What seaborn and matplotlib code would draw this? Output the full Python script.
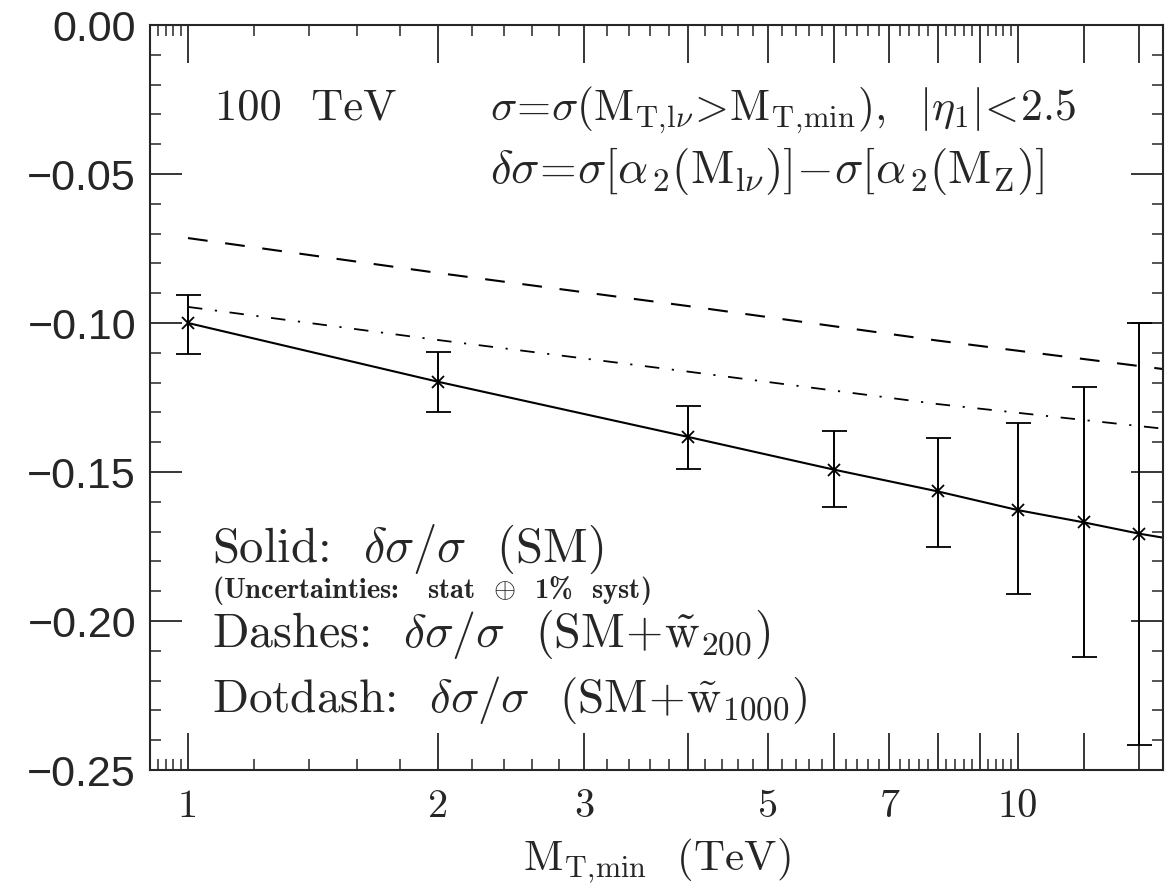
import numpy as np
import pandas as pd
import matplotlib
matplotlib.use("Agg")
import matplotlib.pyplot as plt
import seaborn as sns

# %%
# values
mt_min = [1, 2, 4, 6, 8, 10, 12, 14]
sm_central = [-0.1000, -0.1197, -0.1382, -0.1492, -0.1565, -0.1628, -0.1669, -0.1707]
sm_upper = [-0.0906, -0.1096, -0.1277, -0.1362, -0.1385, -0.1334, -0.1216, -0.1001]
sm_lower = [-0.1104, -0.1298, -0.1489, -0.1617, -0.1752, -0.1909, -0.2122, -0.2416]

# solid curve runs on to the right edge
solid_x = [1, 2, 4, 6, 8, 10, 12, 14, 15]
solid_y = [-0.1000, -0.1197, -0.1382, -0.1492, -0.1565, -0.1628, -0.1669, -0.1707, -0.1721]

# dashes: SM + w200, dotdash: SM + w1000
curve_x = [1, 2, 4, 8, 15]
dashes_y = [-0.0715, -0.0832, -0.0943, -0.1059, -0.1155]
dotdash_y = [-0.0946, -0.1057, -0.1163, -0.1272, -0.1355]

x_tick_pos = [1, 2, 3, 4, 5, 6, 7, 8, 9, 10, 12, 14]
x_tick_lab = ["1", "2", "3", "", "5", "", "7", "", "", "10", "", ""]
y_ticks = [0.00, -0.05, -0.10, -0.15, -0.20, -0.25]

# %%
sns.set_style("ticks")
plt.rcParams["mathtext.fontset"] = "cm"
plt.rcParams["font.family"] = ["Liberation Sans", "DejaVu Sans"]

fig = plt.figure(figsize=(11.71, 8.92), dpi=100)
ax = fig.add_axes([150 / 1171, 122 / 892, 1013 / 1171, 745 / 892])

sm_df = pd.DataFrame({"x": solid_x, "y": solid_y})
sns.lineplot(data=sm_df, x="x", y="y", ax=ax, color="black", linewidth=1.5)

dash_df = pd.DataFrame({"x": curve_x, "y": dashes_y})
sns.lineplot(data=dash_df, x="x", y="y", ax=ax, color="black", linewidth=1.5)
ax.lines[-1].set_dashes((9.5, 8.5))

dd_df = pd.DataFrame({"x": curve_x, "y": dotdash_y})
sns.lineplot(data=dd_df, x="x", y="y", ax=ax, color="black", linewidth=1.3)
ax.lines[-1].set_dashes((8, 7, 1.2, 7))

c = np.array(sm_central)
yerr = np.vstack([c - np.array(sm_lower), np.array(sm_upper) - c])
ax.errorbar(mt_min, sm_central, yerr=yerr, fmt="x", color="black",
            markersize=9, markeredgewidth=1.3, elinewidth=1.4,
            capsize=9, capthick=1.4)

# %%
ax.set_xscale("log")
ax.set_xlim(0.9, 14.95)
ax.set_ylim(-0.25, 0.0)

ax.set_xticks(x_tick_pos)
ax.set_xticklabels(x_tick_lab, family="cmr10")
minor_x = [0.92, 0.94, 0.96, 0.98]
for b in range(1, 10):
    minor_x += [b + 0.2 * k for k in range(1, 5)]
ax.set_xticks(minor_x, minor=True)
ax.set_xticklabels([], minor=True)

ax.set_yticks(y_ticks)
ax.set_yticklabels([f"{v:.2f}".replace("-", "\u2212") for v in y_ticks])
ax.set_yticks(np.arange(-0.25, 0.001, 0.01), minor=True)

ax.tick_params(axis="x", which="major", direction="in", length=27, width=1.3,
               top=True, bottom=True, labelsize=29, pad=14)
ax.tick_params(axis="x", which="minor", direction="in", length=8, width=1.1,
               top=True, bottom=True)
ax.tick_params(axis="y", which="major", direction="in", length=23, width=1.3,
               left=True, right=True, labelsize=31, pad=10)
ax.tick_params(axis="y", which="minor", direction="in", length=8, width=1.1,
               left=True, right=True)
for s in ax.spines.values():
    s.set_linewidth(1.5)
    s.set_visible(True)

ax.set_xlabel(r"$\mathrm{M}_{\mathrm{T,\!min}}$  (TeV)", family="cmr10",
              fontsize=31, labelpad=8)
ax.set_ylabel("")

# %%
# annotations
tr = ax.transAxes
ax.text(0.064, 0.8725, "100  TeV", transform=tr, fontsize=32, family="cmr10")
ax.text(0.336, 0.8725,
        r"$\sigma\!=\!\sigma(\mathrm{M}_{\mathrm{T,\!l}\nu}\!>\!\mathrm{M}_{\mathrm{T,\!min}}),\ \ |\eta_1|\!<\!2.5$",
        transform=tr, fontsize=31.5)
ax.text(0.336, 0.788,
        r"$\delta\sigma\!=\!\sigma[\alpha_{\,2}(\mathrm{M}_{\mathrm{l}\nu})]\!-\!\sigma[\alpha_{\,2}(\mathrm{M_Z})]$",
        transform=tr, fontsize=34)
ax.text(0.061, 0.279, r"Solid:  $\delta\sigma/\sigma$  (SM)",
        transform=tr, fontsize=35, family="cmr10")
ax.text(0.061, 0.231, r"(Uncertainties:   stat  $\oplus$  1%  syst)",
        transform=tr, fontsize=20.5, family="cmb10")
ax.text(0.061, 0.165,
        r"Dashes:  $\delta\sigma/\sigma$  $(\mathrm{SM}\!+\!\tilde{\mathrm{w}}_{200})$",
        transform=tr, fontsize=34.5, family="cmr10")
ax.text(0.061, 0.078,
        r"Dotdash:  $\delta\sigma/\sigma$  $(\mathrm{SM}\!+\!\tilde{\mathrm{w}}_{1000})$",
        transform=tr, fontsize=34, family="cmr10")

fig.savefig("out.png", dpi=100)
